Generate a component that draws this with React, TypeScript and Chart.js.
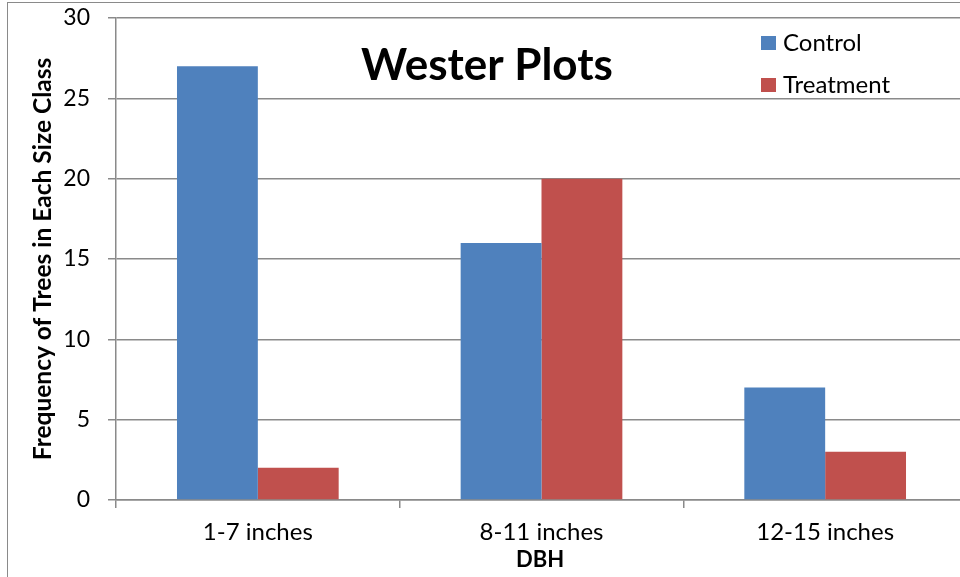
import React, { useEffect, useRef } from "react";
import { Chart, registerables } from "chart.js";

Chart.register(...registerables);

const categories = ["1-7 inches", "8-11 inches", "12-15 inches"];
const controlValues = [27, 16, 7];
const treatmentValues = [2, 20, 3];
const seriesLabels = ["Control", "Treatment"];
const seriesColors = ["#4F81BD", "#C0504D"];
const chartTitle = "Wester Plots";
const xAxisTitle = "DBH";
const yAxisTitle = "Frequency of Trees in Each Size Class";

const FONT = "Lato, 'Noto Sans', sans-serif";

const overlayPlugin = {
  id: "overlay",
  afterDraw(chart: any) {
    const ctx = chart.ctx;
    ctx.save();
    ctx.fillStyle = "#000";
    ctx.textBaseline = "alphabetic";
    // title
    ctx.font = `bold 44px ${FONT}`;
    ctx.textAlign = "center";
    ctx.fillText(chartTitle, 487, 80);
    // legend
    ctx.font = `24px ${FONT}`;
    ctx.textAlign = "left";
    const ds = chart.data.datasets;
    ds.forEach((d: any, i: number) => {
      const y = 36 + i * 42;
      ctx.fillStyle = d.backgroundColor;
      ctx.fillRect(761, y, 15, 14);
      ctx.fillStyle = "#000";
      ctx.fillText(d.label, 783, y + 15);
    });
    // x axis title
    ctx.font = `bold 22px ${FONT}`;
    ctx.textAlign = "center";
    ctx.fillText(xAxisTitle, 540, 567);
    // y axis title
    ctx.translate(51, 259);
    ctx.rotate(-Math.PI / 2);
    ctx.font = `bold 24.5px ${FONT}`;
    ctx.fillText(yAxisTitle, 0, 0);
    ctx.restore();
  },
};

export default function App() {
  const ref = useRef<HTMLCanvasElement | null>(null);
  useEffect(() => {
    if (!ref.current) return;
    const chart = new Chart(ref.current, {
      type: "bar",
      data: {
        labels: categories,
        datasets: [
          { label: seriesLabels[0], data: controlValues, backgroundColor: seriesColors[0] },
          { label: seriesLabels[1], data: treatmentValues, backgroundColor: seriesColors[1] },
        ],
      },
      options: {
        animation: false,
        responsive: false,
        devicePixelRatio: 1,
        layout: { padding: { left: 0, top: 18, right: 8, bottom: 0 } },
        plugins: { legend: { display: false }, title: { display: false }, tooltip: { enabled: false } },
        datasets: { bar: { categoryPercentage: 0.57, barPercentage: 1 } } as any,
        scales: {
          x: {
            grid: { drawOnChartArea: false, drawTicks: true, tickLength: 8, color: "#8a8a8a", lineWidth: 1.5, offset: true },
            border: { color: "#8a8a8a", width: 1.5 },
            ticks: { color: "#000", font: { family: FONT, size: 24 }, padding: 10 },
            afterFit: (s: any) => { s.height = 77; s.paddingLeft = 0; s.paddingRight = 0; },
          },
          y: {
            min: 0,
            max: 30,
            ticks: { stepSize: 5, color: "#000", font: { family: FONT, size: 23 }, padding: 18 },
            grid: { color: "#8a8a8a", lineWidth: 1.5, drawTicks: true, tickLength: 8 },
            border: { color: "#8a8a8a", width: 1.5 },
            afterFit: (s: any) => { s.width = 116; s.paddingTop = 0; s.paddingBottom = 0; },
          },
        },
      },
      plugins: [overlayPlugin],
    });
    return () => chart.destroy();
  }, []);
  return (
    <div style={{ position: "fixed", left: 0, top: 0, width: 960, height: 577, overflow: "hidden", background: "#fff" }}>
      <canvas ref={ref} width={975} height={577} style={{ position: "absolute", left: 0, top: 0, display: "block" }} />
      <div style={{ position: "absolute", left: 7, top: 2, width: 1000, height: 1000, borderLeft: "1.5px solid #8a8a8a", borderTop: "1.5px solid #8a8a8a", pointerEvents: "none" }} />
    </div>
  );
}
